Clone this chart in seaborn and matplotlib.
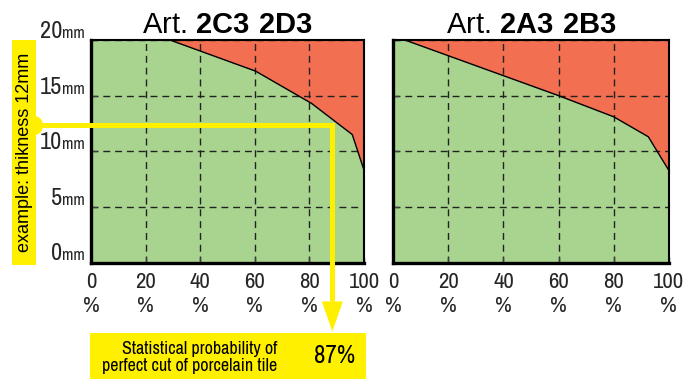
import matplotlib
matplotlib.use("Agg")
import matplotlib.pyplot as plt
import matplotlib.patches as patches
import seaborn as sns
from matplotlib import font_manager

# limit curves: probability of perfect cut (%) vs tile thickness (mm)
pct_2c3 = [0, 28.9, 60.3, 80.8, 95.7, 100]
mm_2c3 = [20, 20, 17.2, 14.3, 11.5, 8.3]
pct_2a3 = [0, 4.2, 60, 80, 92.6, 100]
mm_2a3 = [20, 20, 15.0, 13.1, 11.3, 8.3]

panel_titles = ["2C3 2D3", "2A3 2B3"]
x_ticks = [0, 20, 40, 60, 80, 100]
y_ticks = [0, 5, 10, 15, 20]

example_mm = 12.4
example_pct = 88.4
example_label = "example: thikness 12mm"
result_text = "Statistical probability of\nperfect cut of porcelain tile"
result_value = "87%"

GREEN = "#a9d48f"
RED = "#f26f51"
YELLOW = "#fff000"

sns.set_theme(style="white")
names = {f.name for f in font_manager.fontManager.ttflist}
NARROW = "DejaVu Sans"
for cand in ["Liberation Sans Narrow", "Archivo Narrow", "Roboto Condensed",
             "PT Sans Narrow", "Fira Sans Condensed", "IBM Plex Sans Condensed",
             "Barlow Semi Condensed"]:
    if cand in names:
        NARROW = cand
        break
plt.rcParams["font.family"] = ["Liberation Sans", "DejaVu Sans"]
plt.rcParams["mathtext.fontset"] = "custom"
plt.rcParams["mathtext.rm"] = "Liberation Sans"
plt.rcParams["mathtext.bf"] = "Liberation Sans:bold"


def draw_panel(ax, pct, mm, title, show_y):
    ax.set_facecolor(RED)
    ax.fill_between(pct, mm, 0, color=GREEN, lw=0, zorder=1)
    sns.lineplot(x=pct, y=mm, ax=ax, color="black", lw=1, sort=False, zorder=3)
    ax.set_xlim(0, 100)
    ax.set_ylim(0, 20)
    ax.set_xlabel("")
    ax.set_ylabel("")

    ax.set_xticks(x_ticks)
    ax.set_xticklabels([f"{t}\n%" for t in x_ticks], fontsize=16.5,
                       family=NARROW, linespacing=1.25)
    ax.set_yticks(y_ticks)
    ax.set_yticklabels([])
    ax.tick_params(direction="in", length=4.5, width=1, color="#444",
                   bottom=True, left=True, pad=7)

    ax.grid(True, color="#222222", ls=(0, (5, 3.5)), lw=1)
    ax.set_axisbelow(False)
    for gl in ax.get_xgridlines() + ax.get_ygridlines():
        gl.set_zorder(2)

    for side in ["left", "bottom"]:
        ax.spines[side].set_linewidth(2.4)
        ax.spines[side].set_color("black")
    for side in ["top", "right"]:
        ax.spines[side].set_linewidth(1.5)
        ax.spines[side].set_color("black")
    for s in ax.spines.values():
        s.set_zorder(4)

    bold = title.replace(" ", r"\ ")
    ax.annotate(rf"Art. $\mathbf{{{bold}}}$", xy=(0.5, 1), xycoords="axes fraction",
                xytext=(0, 7), textcoords="offset pixels", ha="center",
                va="baseline", fontsize=21, color="black")

    if show_y:
        for v in y_ticks:
            ax.annotate(str(v), xy=(0, v), xycoords=("axes fraction", "data"),
                        xytext=(-29, 2), textcoords="offset pixels", ha="right",
                        va="baseline", fontsize=17.5, family=NARROW, annotation_clip=False)
            ax.annotate("mm", xy=(0, v), xycoords=("axes fraction", "data"),
                        xytext=(-29, 2), textcoords="offset pixels", ha="left",
                        va="baseline", fontsize=12, family=NARROW, annotation_clip=False)


fig = plt.figure(figsize=(6.83, 3.81), dpi=100)
fig.patch.set_facecolor("white")
ax1 = fig.add_axes([91 / 683, 1 - 262.5 / 381, 273 / 683, 222.5 / 381])
ax2 = fig.add_axes([393.3 / 683, 1 - 262.5 / 381, 275.4 / 683, 222.5 / 381])

draw_panel(ax1, pct_2c3, mm_2c3, panel_titles[0], True)
draw_panel(ax2, pct_2a3, mm_2a3, panel_titles[1], False)

# yellow example annotation on the left panel
ax1.add_patch(patches.Rectangle((-0.289, -0.011), 0.088, 1.011, transform=ax1.transAxes,
                                color=YELLOW, lw=0, clip_on=False, zorder=5))
ax1.text(-0.245, 0.494, example_label, transform=ax1.transAxes, rotation=90,
         ha="center", va="center", fontsize=13, color="black", zorder=6)
ax1.plot([-21.2], [example_mm], "o", ms=14, color=YELLOW, mew=0, clip_on=False, zorder=5)
ax1.plot([-20.5, example_pct, example_pct], [example_mm, example_mm, -3.5],
         color=YELLOW, lw=3.6, solid_joinstyle="miter", solid_capstyle="butt",
         clip_on=False, zorder=6)
ax1.fill([example_pct - 3.85, example_pct + 3.85, example_pct], [-3.5, -3.5, -6.2],
         color=YELLOW, lw=0, clip_on=False, zorder=6)

ax1.add_patch(patches.Rectangle((-0.004, -0.524), 1.011, 0.207, transform=ax1.transAxes,
                                color=YELLOW, lw=0, clip_on=False, zorder=5))
ax1.text(0.681, -0.427, result_text, transform=ax1.transAxes, ha="right", va="center",
         fontsize=13, family=NARROW, linespacing=1.05, color="black", zorder=6)
ax1.text(0.892, -0.420, result_value, transform=ax1.transAxes, ha="center", va="center",
         fontsize=18, family=NARROW, color="black", zorder=6)

fig.savefig("out.png", dpi=100, facecolor="white")
